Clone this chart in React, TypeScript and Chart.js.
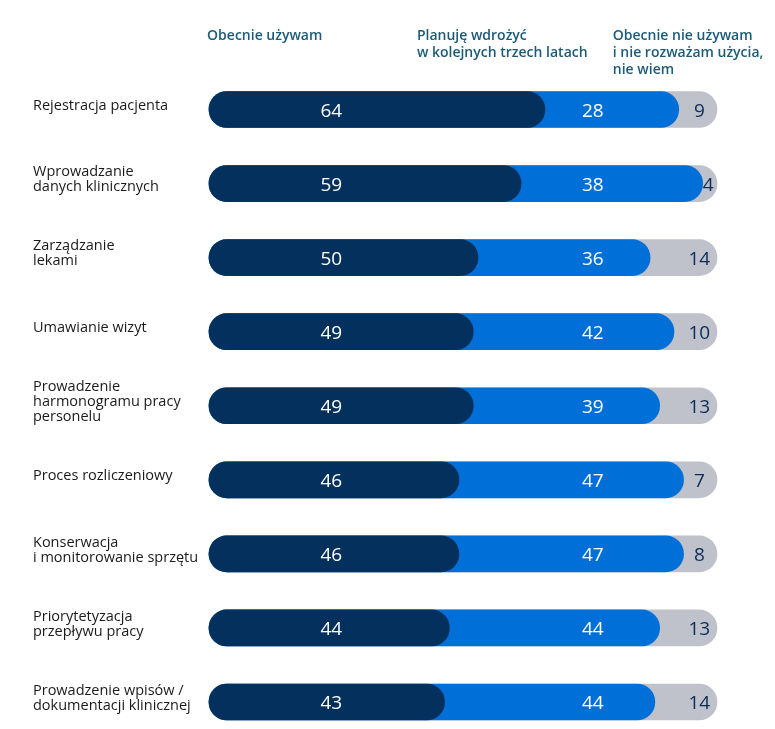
import React, { useEffect, useRef } from 'react';
import { Chart, registerables } from 'chart.js';

Chart.register(...registerables);

const CATEGORIES: string[][] = [
  ['Rejestracja pacjenta'],
  ['Wprowadzanie', 'danych klinicznych'],
  ['Zarządzanie', 'lekami'],
  ['Umawianie wizyt'],
  ['Prowadzenie', 'harmonogramu pracy', 'personelu'],
  ['Proces rozliczeniowy'],
  ['Konserwacja', 'i monitorowanie sprzętu'],
  ['Priorytetyzacja', 'przepływu pracy'],
  ['Prowadzenie wpisów /', 'dokumentacji klinicznej'],
];
const CURRENTLY_USE = [64, 59, 50, 49, 49, 46, 46, 44, 43];
const PLAN_TO_IMPLEMENT = [28, 38, 36, 42, 39, 47, 47, 44, 44];
const NOT_USING = [9, 4, 14, 10, 13, 7, 8, 13, 14];
const SERIES_HEADERS: string[][] = [
  ['Obecnie używam'],
  ['Planuję wdrożyć', 'w kolejnych trzech latach'],
  ['Obecnie nie używam', 'i nie rozważam użycia,', 'nie wiem'],
];

// style constants
const BAR_BASE = -6.3; // rounded cap extends left of zero
const SCALE_MAX = 100;
const DARK = '#04305e';
const BLUE = '#0070d8';
const GRAY = '#bfc1cb';
const HEADER_COLOR = '#1b5b78';
const FONT = '"Open Sans", "Noto Sans", sans-serif';
const HEADER_X = [BAR_BASE - 0.4, 37.2, 78.2];
const LABEL_X = [19.3, 74, 96.3];

const labelsPlugin = {
  id: 'valueLabels',
  afterDatasetsDraw(chart: any) {
    const { ctx } = chart;
    const x = chart.scales.x;
    const y = chart.scales.y;
    ctx.save();
    ctx.font = `19px ${FONT}`;
    ctx.textBaseline = 'alphabetic';
    CATEGORIES.forEach((_, i) => {
      const yc = y.getPixelForValue(i);
      const base = yc + 7;
      ctx.textAlign = 'center';
      ctx.fillStyle = '#ffffff';
      ctx.fillText(String(CURRENTLY_USE[i]), x.getPixelForValue(LABEL_X[0]), base);
      ctx.fillText(String(PLAN_TO_IMPLEMENT[i]), x.getPixelForValue(LABEL_X[1]), base);
      const t = String(NOT_USING[i]);
      const w = ctx.measureText(t).width;
      const blueEnd = x.getPixelForValue(Math.min(SCALE_MAX, CURRENTLY_USE[i] + PLAN_TO_IMPLEMENT[i]));
      const left = Math.max(x.getPixelForValue(LABEL_X[2]) - w / 2, blueEnd);
      ctx.textAlign = 'left';
      ctx.fillStyle = '#0b2d57';
      ctx.fillText(t, left, base);
    });
    ctx.font = `600 14px ${FONT}`;
    ctx.fillStyle = HEADER_COLOR;
    ctx.textAlign = 'left';
    SERIES_HEADERS.forEach((lines, k) => {
      lines.forEach((line, j) => {
        ctx.fillText(line, x.getPixelForValue(HEADER_X[k]), 40 + j * 17);
      });
    });
    ctx.restore();
  },
};

export default function App() {
  const ref = useRef<HTMLCanvasElement | null>(null);
  useEffect(() => {
    if (!ref.current) return;
    const common = {
      borderRadius: 18,
      borderSkipped: false,
      barThickness: 36,
      grouped: false,
      clip: false,
    };
    const chart = new Chart(ref.current, {
      type: 'bar',
      data: {
        labels: CATEGORIES,
        datasets: [
          {
            label: SERIES_HEADERS[0].join(' '),
            data: CURRENTLY_USE.map((v) => [BAR_BASE, v]),
            backgroundColor: DARK,
            ...common,
          },
          {
            label: SERIES_HEADERS[1].join(' '),
            data: CURRENTLY_USE.map((v, i) => [BAR_BASE, Math.min(SCALE_MAX, v + PLAN_TO_IMPLEMENT[i])]),
            backgroundColor: BLUE,
            ...common,
          },
          {
            label: SERIES_HEADERS[2].join(' '),
            data: CURRENTLY_USE.map((v, i) => [
              BAR_BASE,
              Math.min(SCALE_MAX, v + PLAN_TO_IMPLEMENT[i] + NOT_USING[i]),
            ]),
            backgroundColor: GRAY,
            ...common,
          },
        ] as any,
      },
      options: {
        indexAxis: 'y',
        responsive: false,
        animation: false,
        layout: { padding: { left: 33, right: 58, top: 109.5, bottom: 27 } },
        plugins: { legend: { display: false }, tooltip: { enabled: false } },
        scales: {
          x: { type: 'linear', min: BAR_BASE, max: SCALE_MAX, display: false },
          y: {
            type: 'category',
            offset: false,
            grid: { display: false },
            border: { display: false },
            ticks: {
              crossAlign: 'far',
              padding: 0,
              labelOffset: -4,
              color: '#1a1a1a',
              font: { family: FONT, size: 14.5, lineHeight: '15px' },
            },
            afterFit(scale: any) {
              scale.width = 176;
            },
          },
        },
      } as any,
      plugins: [labelsPlugin],
    });
    return () => chart.destroy();
  }, []);
  return (
    <div style={{ position: 'fixed', left: 0, top: 0, width: 775, height: 729, background: '#fff' }}>
      <canvas ref={ref} width={775} height={729} />
    </div>
  );
}
